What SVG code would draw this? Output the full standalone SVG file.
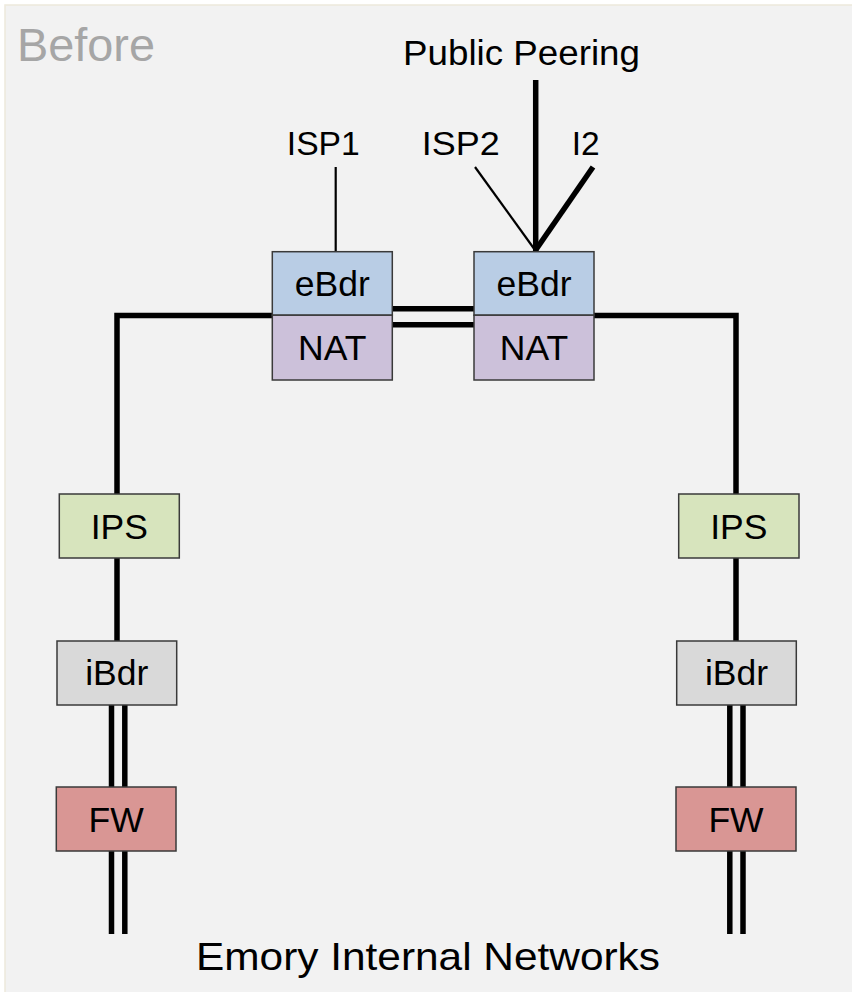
<svg xmlns="http://www.w3.org/2000/svg" width="852" height="992" viewBox="0 0 852 992">
<style>
.box{stroke:#3a3a3a;stroke-width:1.5}
.lbl{font-family:"Liberation Sans",Arial,sans-serif;font-size:35.5px;fill:#000;text-anchor:middle}
.txt{font-family:"Liberation Sans",Arial,sans-serif;fill:#000;text-anchor:middle}
.thick{stroke:#000;stroke-width:5.5;fill:none}
.thin{stroke:#000;stroke-width:2.2;fill:none}
</style>
<rect width="852" height="992" fill="#ffffff"/>
<rect x="5" y="5" width="852" height="992" fill="#f2f2f2" stroke="#ede9dc" stroke-width="1.5"/>
<text x="17" y="61" font-family="Liberation Sans, Arial, sans-serif" font-size="47" fill="#a6a6a6" textLength="138" lengthAdjust="spacingAndGlyphs">Before</text>

<g id="connectors">
  <line class="thick" x1="535.7" y1="80" x2="535.7" y2="252"/>
  <line class="thick" x1="593" y1="167" x2="535.7" y2="250"/>
  <line class="thin" x1="475" y1="167" x2="535" y2="250"/>
  <line class="thin" x1="335.7" y1="167" x2="335.7" y2="252"/>
  <line class="thick" x1="392" y1="308.7" x2="474" y2="308.7"/>
  <line class="thick" x1="392" y1="324.7" x2="474" y2="324.7"/>
  <polyline class="thick" points="272,315.5 117,315.5 117,494" stroke-linejoin="miter"/>
  <polyline class="thick" points="594,315.5 736,315.5 736,494" stroke-linejoin="miter"/>
  <line class="thick" x1="117" y1="558" x2="117" y2="641"/>
  <line class="thick" x1="736" y1="558" x2="736" y2="641"/>
  <line class="thick" x1="111.5" y1="705" x2="111.5" y2="787"/>
  <line class="thick" x1="124.8" y1="705" x2="124.8" y2="787"/>
  <line class="thick" x1="111.5" y1="851" x2="111.5" y2="934"/>
  <line class="thick" x1="124.8" y1="851" x2="124.8" y2="934"/>
  <line class="thick" x1="729.8" y1="705" x2="729.8" y2="787"/>
  <line class="thick" x1="743" y1="705" x2="743" y2="787"/>
  <line class="thick" x1="729.8" y1="851" x2="729.8" y2="934"/>
  <line class="thick" x1="743" y1="851" x2="743" y2="934"/>
</g>

<text class="txt" x="521.5" y="65" font-size="35" textLength="237" lengthAdjust="spacingAndGlyphs">Public Peering</text>
<text class="txt" x="323.3" y="155" font-size="33" textLength="73" lengthAdjust="spacingAndGlyphs">ISP1</text>
<text class="txt" x="460.8" y="155" font-size="33" textLength="78" lengthAdjust="spacingAndGlyphs">ISP2</text>
<text class="txt" x="585.8" y="155" font-size="33" textLength="28" lengthAdjust="spacingAndGlyphs">I2</text>
<text class="txt" x="428" y="970" font-size="39.5" textLength="464" lengthAdjust="spacingAndGlyphs">Emory Internal Networks</text>

<g id="ebdr1">
  <rect class="box" x="272.3" y="251.7" width="120" height="63.5" fill="#b9cde5"/>
  <text class="lbl" x="332.3" y="296">eBdr</text>
</g>
<g id="nat1">
  <rect class="box" x="272.3" y="315.2" width="120" height="64.8" fill="#ccc1da"/>
  <text class="lbl" x="332.3" y="360">NAT</text>
</g>
<g id="ebdr2">
  <rect class="box" x="474" y="251.7" width="120" height="63.5" fill="#b9cde5"/>
  <text class="lbl" x="534" y="296">eBdr</text>
</g>
<g id="nat2">
  <rect class="box" x="474" y="315.2" width="120" height="64.8" fill="#ccc1da"/>
  <text class="lbl" x="534" y="360">NAT</text>
</g>
<g id="ips1">
  <rect class="box" x="59.3" y="494" width="120" height="64" fill="#d7e4bd"/>
  <text class="lbl" x="119.3" y="538.5">IPS</text>
</g>
<g id="ibdr1">
  <rect class="box" x="57" y="641" width="119.7" height="64" fill="#d9d9d9"/>
  <text class="lbl" x="116.8" y="684.5">iBdr</text>
</g>
<g id="fw1">
  <rect class="box" x="56.3" y="787" width="119.7" height="64" fill="#d99694"/>
  <text class="lbl" x="116.2" y="831.5">FW</text>
</g>
<g id="ips2">
  <rect class="box" x="678.7" y="494" width="120.3" height="64" fill="#d7e4bd"/>
  <text class="lbl" x="738.8" y="538.5">IPS</text>
</g>
<g id="ibdr2">
  <rect class="box" x="676.7" y="641" width="119.6" height="64" fill="#d9d9d9"/>
  <text class="lbl" x="736.5" y="684.5">iBdr</text>
</g>
<g id="fw2">
  <rect class="box" x="676" y="787" width="120" height="64" fill="#d99694"/>
  <text class="lbl" x="736" y="831.5">FW</text>
</g>
</svg>
